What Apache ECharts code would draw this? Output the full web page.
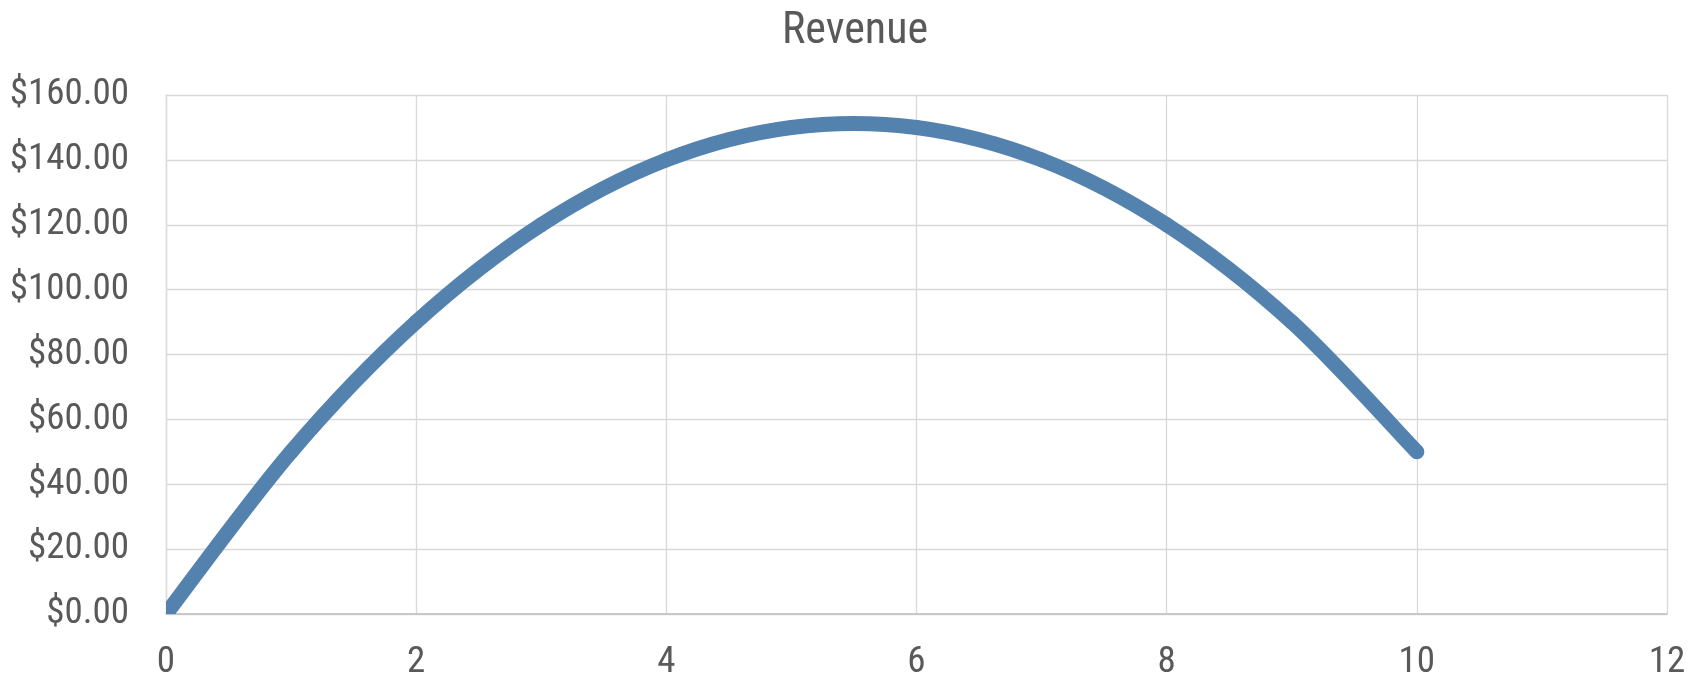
<!DOCTYPE html>
<html>
<head>
<meta charset="utf-8">
<script src="https://cdn.jsdelivr.net/npm/echarts@6/dist/echarts.min.js"></script>
<style>
  html, body { margin: 0; padding: 0; background: #fff; }
  #chart { width: 1694px; height: 682px; }
</style>
</head>
<body>
<div id="chart"></div>
<script>
// units sold vs revenue
const units = [0, 1, 2, 3, 4, 5, 6, 7, 8, 9, 10];
const revenue = [0, 50, 90, 120, 140, 150, 150, 140, 120, 90, 50];
const xTicks = [0, 2, 4, 6, 8, 10, 12];
const yTicks = [0, 20, 40, 60, 80, 100, 120, 140, 160];

const font = "'Roboto Condensed', 'Roboto', sans-serif";
const textColor = "#595959";
const lineColor = "#5482AF";

// excel style smoothed line: catmull-rom segments between neighbouring points
function renderSegment(params, api) {
  const i = params.dataIndex;
  if (i === 0) return null;
  const n = units.length;
  const pt = (k) => {
    k = Math.max(0, Math.min(n - 1, k));
    return api.coord([units[k], revenue[k]]);
  };
  const p0 = pt(i - 2), p1 = pt(i - 1), p2 = pt(i), p3 = pt(i + 1);
  return {
    type: "bezierCurve",
    shape: {
      x1: p1[0], y1: p1[1],
      x2: p2[0], y2: p2[1],
      cpx1: p1[0] + (p2[0] - p0[0]) / 6, cpy1: p1[1] + (p2[1] - p0[1]) / 6,
      cpx2: p2[0] - (p3[0] - p1[0]) / 6, cpy2: p2[1] - (p3[1] - p1[1]) / 6,
    },
    style: { stroke: lineColor, lineWidth: 15, fill: null, lineCap: "round" },
  };
}

const chart = echarts.init(document.getElementById("chart"), null, { renderer: "canvas" });

chart.setOption({
  animation: false,
  title: {
    text: "Revenue",
    left: 855,
    top: 10,
    padding: 0,
    textAlign: "center",
    textStyle: { color: textColor, fontFamily: font, fontWeight: "normal", fontSize: 44 },
  },
  grid: { left: 166, right: 27, top: 95, bottom: 68, outerBoundsMode: "none" },
  xAxis: {
    type: "value",
    min: xTicks[0],
    max: xTicks[xTicks.length - 1],
    interval: 2,
    axisLine: { show: true, lineStyle: { color: "#BFBFBF", width: 1.5 } },
    axisTick: { show: false },
    axisLabel: { color: textColor, fontFamily: font, fontSize: 37, margin: 30 },
    splitLine: { show: true, lineStyle: { color: "#D9D9D9", width: 1.3 } },
  },
  yAxis: {
    type: "value",
    min: yTicks[0],
    max: yTicks[yTicks.length - 1],
    interval: 20,
    axisLine: { show: true, lineStyle: { color: "#D9D9D9", width: 1.3 } },
    axisTick: { show: false },
    axisLabel: {
      color: textColor, fontFamily: font, fontSize: 37, margin: 37,
      formatter: (v) => "$" + v.toFixed(2),
    },
    splitLine: { show: true, lineStyle: { color: "#D9D9D9", width: 1.3 } },
  },
  series: [{
    type: "custom",
    clip: true,
    renderItem: renderSegment,
    encode: { x: 0, y: 1 },
    data: units.map((u, i) => [u, revenue[i]]),
  }],
});
</script>
</body>
</html>
